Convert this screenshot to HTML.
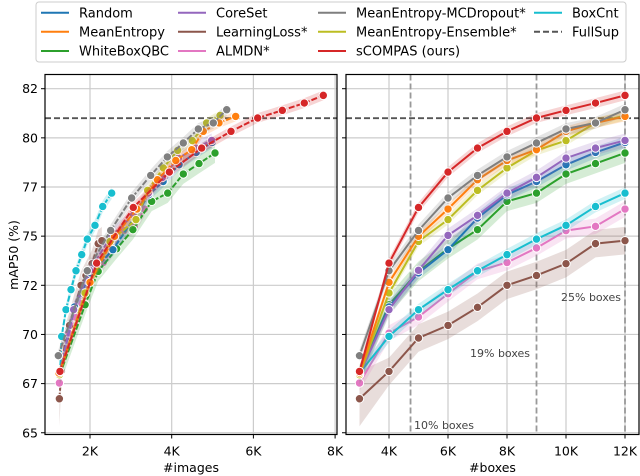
<!DOCTYPE html>
<html><head><meta charset="utf-8">
<style>
html,body{margin:0;padding:0;background:#fff;}
svg{display:block;font-family:"DejaVu Sans","Liberation Sans",sans-serif;}
</style></head>
<body>
<svg id="chart" width="640" height="476" viewBox="0 0 640 476" xmlns="http://www.w3.org/2000/svg"></svg>
<script>
// ---- data ----
const methods = ["Random","MeanEntropy","WhiteBoxQBC","CoreSet","LearningLoss*","ALMDN*","MeanEntropy-MCDropout*","MeanEntropy-Ensemble*","sCOMPAS (ours)","BoxCnt"];
const colors = ["#1f77b4","#ff7f0e","#2ca02c","#9467bd","#8c564b","#e377c2","#7f7f7f","#bcbd22","#d62728","#17becf"];
const boxes = [3000,4000,5000,6000,7000,8000,9000,10000,11000,12000];
const mapRandom   = [67.95,71.4,73.13,74.31,75.92,77.11,77.78,78.63,79.26,79.77];
const mapMeanEnt  = [68.04,72.65,74.99,76.38,77.87,78.85,79.4,80.33,80.76,81.09];
const mapWBQBC    = [67.95,71.51,73.21,74.36,75.33,76.77,77.19,78.16,78.69,79.23];
const mapCoreSet  = [67.95,71.26,73.26,75.04,76.06,77.19,77.99,78.97,79.48,79.87];
const mapLL       = [66.73,68.12,69.82,70.46,71.38,72.5,73.0,73.6,74.62,74.77];
const mapALMDN    = [67.53,70.07,70.89,72.07,73.21,73.66,74.4,75.28,75.5,76.38];
const mapMCD      = [68.92,73.24,75.29,76.94,78.09,79.03,79.74,80.45,80.76,81.43];
const mapEns      = [67.95,72.11,74.73,75.84,77.33,78.47,79.36,79.86,80.76,81.14];
const mapOurs     = [68.12,73.63,76.46,78.26,79.48,80.33,81.01,81.4,81.77,82.16];
const mapBoxCnt   = [68.04,69.9,71.26,72.28,73.24,74.06,74.85,75.55,76.51,77.19];
const imgRandom   = [1250,1620,2020,2560,3080,3440,3790,4180,4600,4990];
const imgMeanEnt  = [1240,2000,2600,3150,3650,4100,4490,4773,5158,5566];
const imgWBQBC    = [1260,1880,2200,2653,3050,3510,3902,4284,4668,5060];
const imgCoreSet  = [1250,1600,1990,2530,3060,3427,3770,4163,4595,4979];
const imgLL       = [1250,1300,1400,1500,1620,1780,1900,2050,2200,2290];
const imgALMDN    = [1250,1470,1632,1836,2080,2325,2570,2831,3085,3330];
const imgMCD      = [1225,1934,2506,3020,3486,3893,4284,4651,5018,5347];
const imgEns      = [1250,1878,2490,3126,3412,3795,4146,4505,4856,5183];
const imgOurs     = [1265,2163,3060,3942,4734,5452,6105,6708,7246,7711];
const imgBoxCnt   = [1266,1307,1412,1535,1657,1797,1934,2122,2311,2531];
const spread      = [0.3,0.25,0.5,0.35,0.7,0.4,0.3,0.25,0.25,0.3];
const fullSup = 81.0;
const yTicks = [65,67.5,70,72.5,75,77.5,80,82.5];
const yTickLabels = ["65","67","70","72","75","77","80","82"];
const xTicksL = [2000,4000,6000,8000];
const xTicksR = [4000,6000,8000,10000,12000];
const vLines = [4730,9000,12000];
const maps = [mapRandom,mapMeanEnt,mapWBQBC,mapCoreSet,mapLL,mapALMDN,mapMCD,mapEns,mapOurs,mapBoxCnt];
const imgs = [imgRandom,imgMeanEnt,imgWBQBC,imgCoreSet,imgLL,imgALMDN,imgMCD,imgEns,imgOurs,imgBoxCnt];
const drawOrder = [4,5,9,2,0,3,7,1,6,8];

// ---- geometry ----
const NS="http://www.w3.org/2000/svg";
const svg=document.getElementById('chart');
const PT=74.5, PB=434.5;
const L={x0:45,x1:337}, R={x0:346,x1:639};
function y(v){return 88.7+(82.5-v)*19.66;}
function xl(v){return 8.3+v*0.04085;}
function xr(v){return 389+(v-4000)*0.0295;}
function el(tag,attrs,parent){const e=document.createElementNS(NS,tag);for(const k in attrs)e.setAttribute(k,attrs[k]);(parent||svg).appendChild(e);return e;}
function txt(s,attrs,parent){const e=el('text',attrs,parent);e.textContent=s;return e;}

function panel(P,xf,xTicks,xs,name,xlabel,showY){
  const g=el('g',{});
  
  
  const cid='clip-'+name;
  const cp=el('clipPath',{id:cid},g);
  el('rect',{x:P.x0,y:PT,width:P.x1-P.x0,height:PB-PT},cp);
  // grid
  const grid=el('g',{stroke:'#cccccc','stroke-width':1.2},g);
  
  
  yTicks.forEach(t=>el('line',{x1:P.x0,x2:P.x1,y1:y(t),y2:y(t)},grid));
  xTicks.forEach(t=>el('line',{x1:xf(t),x2:xf(t),y1:PT,y2:PB},grid));
  const plot=el('g',{'clip-path':'url(#'+cid+')'},g);
  // fullsup
  const fs=el('line',{x1:P.x0,x2:P.x1,y1:y(fullSup),y2:y(fullSup),stroke:'#555','stroke-width':1.8,'stroke-dasharray':'6,3'},plot);
  
  
  if(name==='boxes'){
    vLines.forEach(v=>{const l=el('line',{x1:xr(v),x2:xr(v),y1:PT,y2:PB,stroke:'#999','stroke-width':1.8,'stroke-dasharray':'6,3'},plot);
      
      });
  }
  drawOrder.forEach(i=>{
    const xsI=xs(i), m=maps[i], c=colors[i];
    const sg=el('g',{},plot);
    
    
    let up='',dn='';
    m.forEach((v,k)=>{up+=(k?'L':'M')+xf(xsI[k])+','+y(v+spread[i]*(k===0&&i===4?2:1));});
    for(let k=m.length-1;k>=0;k--){dn+='L'+xf(xsI[k])+','+y(m[k]-spread[i]*(k===0&&i===4?2:1));}
    el('path',{d:up+dn+'Z',fill:c,'fill-opacity':0.2,stroke:'none'},sg);
    let d='';m.forEach((v,k)=>{d+=(k?'L':'M')+xf(xsI[k])+','+y(v);});
    const ln=el('path',{d:d,fill:'none',stroke:c,'stroke-width':2});
    sg.appendChild(ln);
    if(name==='images')ln.setAttribute('stroke-dasharray','6,2');
    m.forEach((v,k)=>{const p=el('circle',{cx:xf(xsI[k]),cy:y(v),r:4.2,fill:c,stroke:'#fff','stroke-width':1},sg);
      
      });
  });
  if(name==='boxes'){
    const ann=[["10% boxes",414,429],["19% boxes",470,357],["25% boxes",561,301]];
    ann.forEach(a=>{const t=txt(a[0],{x:a[1],y:a[2],'font-size':11,fill:'#444'},g);
      
      });
  }
  // spines
  el('rect',{x:P.x0,y:PT,width:P.x1-P.x0,height:PB-PT,fill:'none',stroke:'#000','stroke-width':1.2},g);
  // ticks
  yTicks.forEach((t,i)=>{el('line',{x1:P.x0-4,x2:P.x0,y1:y(t),y2:y(t),stroke:'#000','stroke-width':1},g);
    if(showY){const tl=txt(yTickLabels[i],{x:P.x0-7,y:y(t)+4.5,'text-anchor':'end','font-size':12.5},g);
      
      }});
  xTicks.forEach(t=>{el('line',{x1:xf(t),x2:xf(t),y1:PB,y2:PB+4,stroke:'#000','stroke-width':1},g);
    const tl=txt((t/1000)+'K',{x:xf(t),y:PB+21,'text-anchor':'middle','font-size':12.5},g);
    
    });
  const xlab=txt(xlabel,{x:(P.x0+P.x1)/2,y:472,'text-anchor':'middle','font-size':12.5},g);
  
  
}
panel(L,xl,xTicksL,i=>imgs[i],'images','#images',true);
panel(R,xr,xTicksR,i=>boxes,'boxes','#boxes',false);
const yl=txt('mAP50 (%)',{x:0,y:0,transform:'translate(18,255) rotate(-90)','text-anchor':'middle','font-size':12.5});



// legend
const lg=el('g',{});


el('rect',{x:36,y:2,width:590,height:60,rx:3,fill:'#fff',stroke:'#ccc','stroke-width':1},lg);
const colX=[41,178,318,534];
const entries=[[0,0,0],[1,0,1],[2,0,2],[3,1,0],[4,1,1],[5,1,2],[6,2,0],[7,2,1],[8,2,2],[9,3,0]];
const rowY=[12.7,31.7,51];
entries.forEach(e=>{
  const i=e[0],cx=colX[e[1]],cy=rowY[e[2]];
  const eg=el('g',{},lg);
  
  
  el('line',{x1:cx,x2:cx+28,y1:cy,y2:cy,stroke:colors[i],'stroke-width':2},eg);
  txt(methods[i],{x:cx+38,y:cy+4.7,'font-size':13},eg);
});
const fg=el('g',{},lg);


el('line',{x1:534,x2:562,y1:31.7,y2:31.7,stroke:'#555','stroke-width':2,'stroke-dasharray':'6,3'},fg);
txt('FullSup',{x:572,y:36.4,'font-size':13},fg);
</script>
</body></html>
